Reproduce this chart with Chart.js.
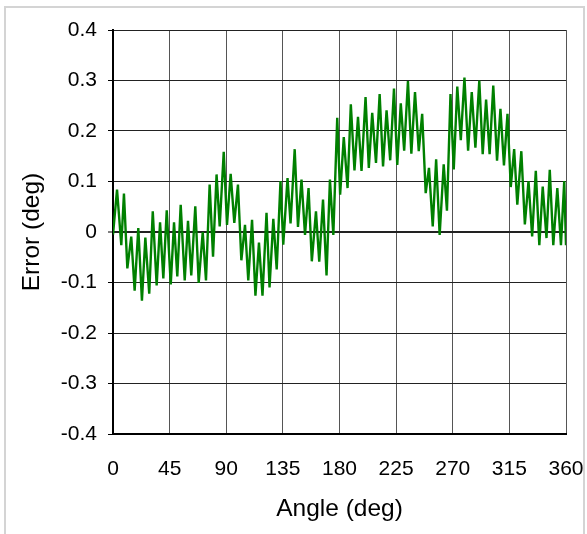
<!DOCTYPE html>
<html>
<head>
<meta charset="utf-8">
<script src="https://cdn.jsdelivr.net/npm/chart.js@4"></script>
<style>
html,body{margin:0;padding:0;background:#fff;}
#wrap{position:relative;width:587px;height:534px;overflow:hidden;}
#frame{position:absolute;left:4px;top:6px;width:581px;height:540px;border:2px solid #d4d4d4;box-sizing:border-box;}
canvas{position:absolute;left:0;top:0;}
</style>
</head>
<body>
<div id="wrap"><div id="frame"></div><canvas id="c" width="587" height="534"></canvas></div>
<script>
const angles = [0,3.2,6.6,8.7,11.4,14.5,17.2,20.1,23.0,25.7,
28.8,31.6,34.7,37.4,40.0,42.7,45.9,48.5,51.1,53.8,
57.0,59.6,62.2,65.4,68.1,71.3,73.9,76.8,79.5,82.3,
84.8,88.0,90.6,93.5,96.4,99.3,102.0,104.9,107.5,110.5,
113.2,116.0,118.8,122.0,124.4,127.4,130.1,133.1,135.3,138.7,
141.1,144.4,147.0,149.8,152.6,155.4,158.0,161.3,163.9,166.9,
169.7,172.4,175.1,178.2,180.5,183.4,186.4,189.0,191.9,194.7,
197.5,200.7,203.3,206.0,209.0,211.9,214.6,217.4,220.3,223.3,
225.9,228.7,231.4,234.4,237.1,240.0,243.0,245.7,248.5,251.1,
254.1,256.8,259.6,262.8,265.4,268.2,270.8,273.6,276.4,279.3,
282.2,285.1,288.0,291.1,293.8,296.5,299.3,302.2,305.2,307.9,
310.7,313.5,316.1,318.8,321.3,324.5,327.3,330.2,333.1,336.0,
338.8,341.5,344.5,347.1,349.9,353.1,356.0,358.6,360];

const errors = [-0.005,0.084,-0.026,0.076,-0.072,-0.009,-0.116,0.008,-0.136,-0.011,
-0.122,0.041,-0.106,0.019,-0.092,0.043,-0.104,0.019,-0.088,0.054,
-0.096,0.022,-0.086,0.051,-0.101,0.0,-0.096,0.094,-0.049,0.114,
0.011,0.159,0.014,0.115,0.018,0.094,-0.056,0.014,-0.096,0.024,
-0.126,-0.021,-0.126,0.038,-0.11,0.026,-0.074,0.101,-0.025,0.107,
0.017,0.164,0.01,0.104,-0.006,0.087,-0.058,0.041,-0.059,0.064,
-0.086,0.104,-0.006,0.226,0.074,0.188,0.087,0.253,0.122,0.228,
0.121,0.267,0.127,0.236,0.137,0.273,0.13,0.241,0.142,0.284,
0.133,0.255,0.161,0.299,0.155,0.277,0.16,0.234,0.077,0.127,
0.011,0.144,-0.006,0.134,0.042,0.273,0.124,0.288,0.182,0.306,
0.161,0.277,0.167,0.3,0.154,0.262,0.154,0.29,0.141,0.244,
0.132,0.234,0.089,0.164,0.054,0.16,0.015,0.101,-0.009,0.121,
-0.026,0.09,-0.012,0.123,-0.026,0.087,-0.026,0.101,-0.026];

const xTicks = [0,45,90,135,180,225,270,315,360];
const yTicks = [-0.4,-0.3,-0.2,-0.1,0,0.1,0.2,0.3,0.4];
const xTitle = 'Angle (deg)';
const yTitle = 'Error (deg)';

const FONT = "'Liberation Sans', Arial, sans-serif";
const points = angles.map((a, i) => ({x: a, y: errors[i]}));

new Chart(document.getElementById('c'), {
  type: 'line',
  data: {
    datasets: [{
      data: points,
      borderColor: '#008000',
      borderWidth: 2.4,
      pointRadius: 0,
      tension: 0,
      fill: false
    }]
  },
  options: {
    responsive: false,
    animation: false,
    events: [],
    layout: {padding: {left: 0, right: 21, top: 30, bottom: 0}},
    plugins: {legend: {display: false}, tooltip: {enabled: false}},
    scales: {
      x: {
        type: 'linear',
        min: 0, max: 360,
        afterBuildTicks: s => { s.ticks = xTicks.map(v => ({value: v})); },
        afterFit: s => { s.height = 100; },
        grid: {color: '#555', lineWidth: 1, drawTicks: true, tickLength: 22, tickColor: 'rgba(0,0,0,0)'},
        border: {color: '#000', width: 2},
        ticks: {color: '#000', font: {family: FONT, size: 21}, padding: 1, maxRotation: 0,
          callback: v => String(v)},
        title: {display: true, text: xTitle, color: '#000', font: {family: FONT, size: 24.5}, padding: {top: 0, bottom: 10}}
      },
      y: {
        type: 'linear',
        min: -0.4, max: 0.4,
        afterBuildTicks: s => { s.ticks = yTicks.map(v => ({value: v})); },
        afterFit: s => { s.width = 113; },
        grid: {
          color: '#222',
          lineWidth: c => (c.tick && Math.abs(c.tick.value) < 1e-9) ? 2 : 1,
          drawTicks: true, tickLength: 5, tickColor: '#000', tickWidth: 1
        },
        border: {color: '#000', width: 2},
        ticks: {color: '#000', font: {family: FONT, size: 21}, padding: 11,
          callback: v => Math.abs(v) < 1e-9 ? '0' : v.toFixed(1)},
        title: {display: true, text: yTitle, color: '#000', font: {family: FONT, size: 24.5}, padding: {top: 18, bottom: 0}}
      }
    }
  }
});
</script>
</body>
</html>
